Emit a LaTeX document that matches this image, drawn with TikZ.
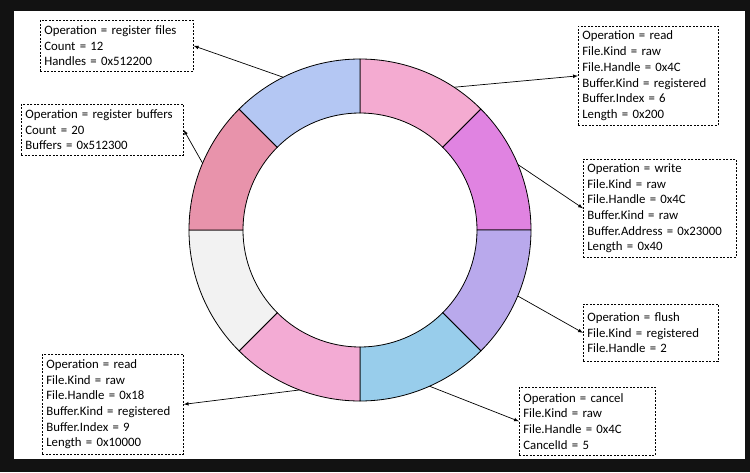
\documentclass[tikz,border=0pt]{standalone}
\usepackage{tikz}
\usepackage{xcolor}
\usepackage{fontspec}
\setmainfont{Carlito}

\definecolor{segread}{HTML}{F4ABD1}
\definecolor{segwrite}{HTML}{E083E1}
\definecolor{segflush}{HTML}{B9A9EC}
\definecolor{segcancel}{HTML}{98CDEB}
\definecolor{segreadb}{HTML}{F3ABD4}
\definecolor{segfree}{HTML}{F2F2F2}
\definecolor{segregbuf}{HTML}{E893AB}
\definecolor{segregfile}{HTML}{B4C7F3}

\tikzset{opbox/.style={draw, line width=0.7pt, dash pattern=on 2pt off 1.5pt, anchor=north west, align=left, inner xsep=4pt, inner ysep=2pt, font=\fontsize{12.8}{15.7}\selectfont}}

\begin{document}
\begin{tikzpicture}[x=1pt,y=1pt,>=latex]

%Rahmen
\fill[black!93] (-360,-242) rectangle (390,230);
\fill[white] (-346,-229) rectangle (385,219);
\useasboundingbox (-360,-242) rectangle (390,230);

%Ring
\foreach \a/\c in {90/segread, 45/segwrite, 0/segflush, -45/segcancel, -90/segreadb, -135/segfree, 180/segregbuf, 135/segregfile}
{
\pgfmathsetmacro\b{\a-45}
\filldraw[fill=\c, draw=black, line width=0.8pt] (\a:117) arc[start angle=\a, end angle=\b, radius=117] -- (\b:171) arc[start angle=\b, end angle=\a, radius=171] -- cycle;
}

%Punkte am Ring
\coordinate (pregfiles) at (116.7:171);
\coordinate (pregbufs) at (157:171);
\coordinate (preada) at (56.6:171);
\coordinate (pwrite) at (22.5:171);
\coordinate (pflush) at (-22.7:171);
\coordinate (pcancel) at (-66:171);
\coordinate (preadb) at (-110.7:171);

%Kaesten
\node[opbox, text width=145pt, minimum height=51pt] (regfiles) at (-320,210) {Operation = register files\\Count = 12\\Handles = 0x512200};
\node[opbox, text width=154pt, minimum height=51pt] (regbufs) at (-339,126) {Operation = register buffers\\Count = 20\\Buffers = 0x512300};
\node[opbox, text width=132pt, minimum height=99pt] (reada) at (218,204) {Operation = read\\File.Kind = raw\\File.Handle = 0x4C\\Buffer.Kind = registered\\Buffer.Index = 6\\Length = 0x200};
\node[opbox, text width=145pt, minimum height=98pt] (write) at (223,71) {Operation = write\\File.Kind = raw\\File.Handle = 0x4C\\Buffer.Kind = raw\\Buffer.Address = 0x23000\\Length = 0x40};
\node[opbox, text width=127pt, minimum height=57pt] (flush) at (223,-74) {Operation = flush\\File.Kind = registered\\File.Handle = 2};
\node[opbox, text width=128pt, minimum height=68pt] (cancel) at (159,-157) {Operation = cancel\\File.Kind = raw\\File.Handle = 0x4C\\CancelId = 5};
\node[opbox, text width=133pt, minimum height=100pt] (readb) at (-318,-124) {Operation = read\\File.Kind = raw\\File.Handle = 0x18\\Buffer.Kind = registered\\Buffer.Index = 9\\Length = 0x10000};

%Pfeile
\draw[->, line width=0.7pt] (pregfiles) -- (regfiles.east);
\draw[->, line width=0.7pt] (pregbufs) -- (regbufs.east);
\draw[->, line width=0.7pt] (preada) -- (reada.west);
\draw[->, line width=0.7pt] (pwrite) -- (write.west);
\draw[->, line width=0.7pt] (pflush) -- (flush.west);
\draw[->, line width=0.7pt] (pcancel) -- (cancel.west);
\draw[->, line width=0.7pt] (preadb) -- (readb.east);

\end{tikzpicture}
\end{document}
